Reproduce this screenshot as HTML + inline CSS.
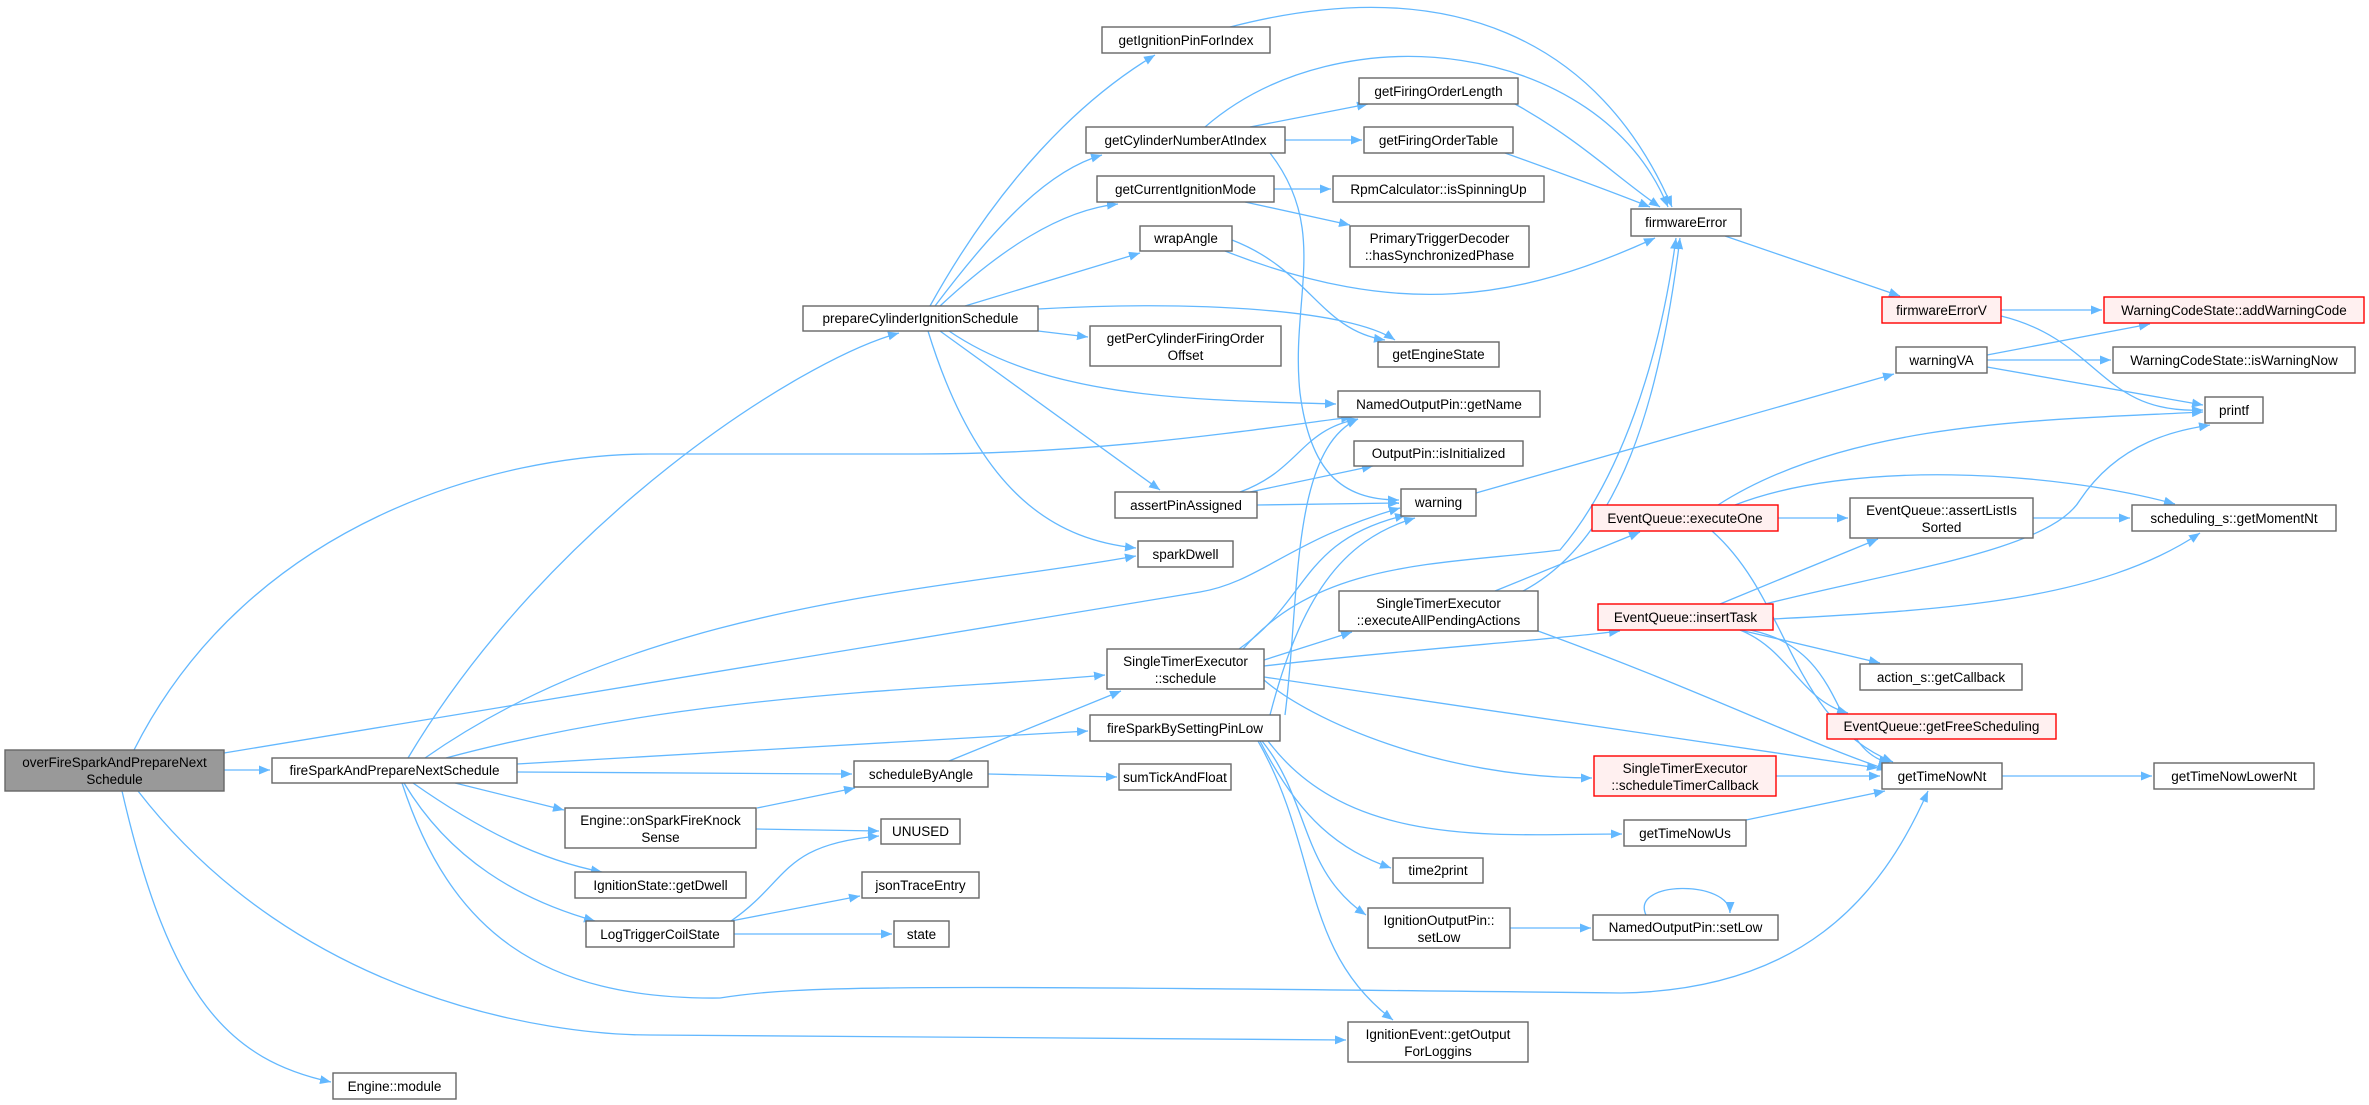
<!DOCTYPE html>
<html><head><meta charset="utf-8"><style>
html,body{margin:0;padding:0;background:#fff;}
svg{display:block;}
text{font-family:"Liberation Sans",Arial,sans-serif;font-size:13.5px;fill:#000;}
.n{fill:#fff;stroke:#666;stroke-width:1.4;}
.r{fill:#fff0f0;stroke:#ff0000;stroke-width:1.4;}
.g{fill:#999;stroke:#666;stroke-width:1.4;}
.e{fill:none;stroke:#63b8ff;stroke-width:1.3;marker-end:url(#a);}
</style></head><body>
<svg width="2369" height="1105" viewBox="0 0 2369 1105" xmlns="http://www.w3.org/2000/svg">
<defs><marker id="a" markerUnits="userSpaceOnUse" markerWidth="12" markerHeight="10" refX="11" refY="4.5" orient="auto"><path d="M0,0 L11,4.5 L0,9 z" fill="#63b8ff"/></marker></defs>
<g>
<path class="e" d="M224,770 L270,770"/>
<path class="e" d="M134,750 C250,520 500,454 650,454 L918,454 C1100,454 1250,430 1352,417"/>
<path class="e" d="M224,753 L1200,592 C1260,582 1290,540 1400,508"/>
<path class="e" d="M138,791 C300,1000 550,1035 650,1035 L1346,1040"/>
<path class="e" d="M122,791 C170,1000 230,1060 331,1082"/>
<path class="e" d="M408,758 C550,520 800,360 899,333"/>
<path class="e" d="M425,758 C650,600 950,590 1136,556"/>
<path class="e" d="M446,758 C700,690 950,690 1105,675"/>
<path class="e" d="M517,764 L1088,731"/>
<path class="e" d="M517,772 L852,774"/>
<path class="e" d="M455,783 L564,810"/>
<path class="e" d="M413,783 C480,830 540,860 602,872"/>
<path class="e" d="M404,783 C450,860 520,900 595,921"/>
<path class="e" d="M402,783 C450,930 540,1000 720,998 C800,985 900,985 1621,993 C1800,990 1880,900 1928,791"/>
<path class="e" d="M949,761 L1121,691"/>
<path class="e" d="M988,774 L1117,777"/>
<path class="e" d="M757,808 L855,788"/>
<path class="e" d="M756,829 L879,831"/>
<path class="e" d="M731,921 C790,880 780,845 879,836"/>
<path class="e" d="M731,921 L860,896"/>
<path class="e" d="M734,934 L892,934"/>
<path class="e" d="M930,306 C1000,180 1080,100 1155,55"/>
<path class="e" d="M935,306 C1000,220 1050,170 1102,155"/>
<path class="e" d="M940,306 C1000,250 1060,210 1118,204"/>
<path class="e" d="M965,306 L1140,253"/>
<path class="e" d="M1038,309 C1200,300 1350,310 1395,340"/>
<path class="e" d="M1038,331 L1088,337"/>
<path class="e" d="M949,331 C1050,400 1200,400 1336,404"/>
<path class="e" d="M940,331 L1160,490"/>
<path class="e" d="M928,331 C980,500 1060,540 1136,548"/>
<path class="e" d="M1230,27 C1450,-30 1600,40 1672,207"/>
<path class="e" d="M1205,127 C1340,10 1600,40 1668,207"/>
<path class="e" d="M1250,127 L1368,104"/>
<path class="e" d="M1285,140 L1362,140"/>
<path class="e" d="M1270,153 C1330,230 1290,300 1300,393 C1310,470 1340,500 1399,500"/>
<path class="e" d="M1274,189 L1331,189"/>
<path class="e" d="M1245,202 L1350,225"/>
<path class="e" d="M1225,251 C1400,320 1520,300 1655,238"/>
<path class="e" d="M1232,240 C1310,270 1320,330 1385,340"/>
<path class="e" d="M1515,104 C1580,140 1620,180 1660,207"/>
<path class="e" d="M1505,153 C1580,180 1620,195 1650,207"/>
<path class="e" d="M1240,492 C1300,470 1300,430 1358,419"/>
<path class="e" d="M1250,492 L1373,466"/>
<path class="e" d="M1257,505 L1399,503"/>
<path class="e" d="M1239,649 C1310,600 1300,540 1406,515"/>
<path class="e" d="M1243,649 C1320,560 1440,565 1560,550 C1620,480 1660,360 1676,238"/>
<path class="e" d="M1264,660 L1352,632"/>
<path class="e" d="M1264,666 C1400,650 1550,640 1620,631"/>
<path class="e" d="M1264,680 C1310,720 1440,778 1592,778"/>
<path class="e" d="M1264,677 L1878,768"/>
<path class="e" d="M1270,715 C1300,600 1340,540 1415,518"/>
<path class="e" d="M1285,715 C1300,600 1290,450 1358,419"/>
<path class="e" d="M1523,591 C1620,540 1660,400 1680,238"/>
<path class="e" d="M1495,591 L1640,532"/>
<path class="e" d="M1538,631 C1700,690 1800,740 1888,770"/>
<path class="e" d="M1476,493 L1894,374"/>
<path class="e" d="M1725,236 L1900,296"/>
<path class="e" d="M2001,310 L2102,310"/>
<path class="e" d="M2001,316 C2100,340 2100,415 2203,410"/>
<path class="e" d="M1987,355 L2150,324"/>
<path class="e" d="M1987,360 L2111,360"/>
<path class="e" d="M1987,367 L2203,405"/>
<path class="e" d="M1718,505 C1850,420 2050,420 2203,412"/>
<path class="e" d="M1735,505 C1850,460 2050,470 2175,504"/>
<path class="e" d="M1778,518 L1848,518"/>
<path class="e" d="M1712,531 C1790,600 1790,720 1893,762"/>
<path class="e" d="M1720,604 L1878,539"/>
<path class="e" d="M1765,604 C1900,570 2050,550 2080,500 C2120,440 2180,430 2210,425"/>
<path class="e" d="M1773,619 C1950,610 2100,600 2200,533"/>
<path class="e" d="M1740,630 L1880,663"/>
<path class="e" d="M1740,630 C1790,650 1800,700 1848,713"/>
<path class="e" d="M1750,630 C1850,650 1830,750 1890,763"/>
<path class="e" d="M2033,518 L2130,518"/>
<path class="e" d="M1776,776 L1880,776"/>
<path class="e" d="M1746,820 L1885,791"/>
<path class="e" d="M2002,776 L2152,776"/>
<path class="e" d="M1260,741 C1300,820 1340,850 1391,868"/>
<path class="e" d="M1262,741 C1310,800 1300,870 1366,915"/>
<path class="e" d="M1258,741 C1320,850 1300,950 1393,1020"/>
<path class="e" d="M1268,741 C1350,850 1500,834 1622,834"/>
<path class="e" d="M1510,928 L1591,928"/>
<path class="e" d="M1646,915 C1630,880 1730,880 1730,913"/>
</g>
<g>
<rect class="g" x="5" y="750" width="219" height="41"/>
<text x="114.5" y="767" text-anchor="middle">overFireSparkAndPrepareNext</text>
<text x="114.5" y="784" text-anchor="middle">Schedule</text>
<rect class="n" x="272" y="758" width="245" height="25"/><text x="394.5" y="775" text-anchor="middle">fireSparkAndPrepareNextSchedule</text>
<rect class="n" x="803" y="306" width="235" height="25"/><text x="920.5" y="323" text-anchor="middle">prepareCylinderIgnitionSchedule</text>
<rect class="n" x="1102" y="27" width="168" height="26"/><text x="1186" y="45" text-anchor="middle">getIgnitionPinForIndex</text>
<rect class="n" x="1086" y="127" width="199" height="26"/><text x="1185.5" y="145" text-anchor="middle">getCylinderNumberAtIndex</text>
<rect class="n" x="1097" y="176" width="177" height="26"/><text x="1185.5" y="194" text-anchor="middle">getCurrentIgnitionMode</text>
<rect class="n" x="1140" y="226" width="92" height="25"/><text x="1186" y="243" text-anchor="middle">wrapAngle</text>
<rect class="n" x="1090" y="326" width="191" height="40"/><text x="1185.5" y="343" text-anchor="middle">getPerCylinderFiringOrder</text><text x="1185.5" y="360" text-anchor="middle">Offset</text>
<rect class="n" x="1115" y="492" width="142" height="26"/><text x="1186" y="510" text-anchor="middle">assertPinAssigned</text>
<rect class="n" x="1138" y="541" width="95" height="26"/><text x="1185.5" y="559" text-anchor="middle">sparkDwell</text>
<rect class="n" x="1107" y="649" width="157" height="40"/><text x="1185.5" y="666" text-anchor="middle">SingleTimerExecutor</text><text x="1185.5" y="683" text-anchor="middle">::schedule</text>
<rect class="n" x="1090" y="715" width="190" height="26"/><text x="1185" y="733" text-anchor="middle">fireSparkBySettingPinLow</text>
<rect class="n" x="854" y="761" width="134" height="26"/><text x="921" y="779" text-anchor="middle">scheduleByAngle</text>
<rect class="n" x="1119" y="764" width="112" height="26"/><text x="1175" y="782" text-anchor="middle">sumTickAndFloat</text>
<rect class="n" x="565" y="808" width="191" height="40"/><text x="660.5" y="825" text-anchor="middle">Engine::onSparkFireKnock</text><text x="660.5" y="842" text-anchor="middle">Sense</text>
<rect class="n" x="881" y="819" width="79" height="25"/><text x="920.5" y="836" text-anchor="middle">UNUSED</text>
<rect class="n" x="575" y="872" width="171" height="26"/><text x="660.5" y="890" text-anchor="middle">IgnitionState::getDwell</text>
<rect class="n" x="862" y="872" width="117" height="26"/><text x="920.5" y="890" text-anchor="middle">jsonTraceEntry</text>
<rect class="n" x="586" y="921" width="148" height="26"/><text x="660" y="939" text-anchor="middle">LogTriggerCoilState</text>
<rect class="n" x="894" y="921" width="55" height="26"/><text x="921.5" y="939" text-anchor="middle">state</text>
<rect class="n" x="333" y="1073" width="123" height="26"/><text x="394.5" y="1091" text-anchor="middle">Engine::module</text>
<rect class="n" x="1359" y="78" width="159" height="26"/><text x="1438.5" y="96" text-anchor="middle">getFiringOrderLength</text>
<rect class="n" x="1364" y="127" width="149" height="26"/><text x="1438.5" y="145" text-anchor="middle">getFiringOrderTable</text>
<rect class="n" x="1333" y="176" width="211" height="26"/><text x="1438.5" y="194" text-anchor="middle">RpmCalculator::isSpinningUp</text>
<rect class="n" x="1350" y="226" width="179" height="41"/><text x="1439.5" y="243" text-anchor="middle">PrimaryTriggerDecoder</text><text x="1439.5" y="260" text-anchor="middle">::hasSynchronizedPhase</text>
<rect class="n" x="1378" y="342" width="121" height="25"/><text x="1438.5" y="359" text-anchor="middle">getEngineState</text>
<rect class="n" x="1338" y="391" width="202" height="26"/><text x="1439" y="409" text-anchor="middle">NamedOutputPin::getName</text>
<rect class="n" x="1354" y="441" width="169" height="25"/><text x="1438.5" y="458" text-anchor="middle">OutputPin::isInitialized</text>
<rect class="n" x="1401" y="489" width="75" height="27"/><text x="1438.5" y="507" text-anchor="middle">warning</text>
<rect class="n" x="1339" y="591" width="199" height="40"/><text x="1438.5" y="608" text-anchor="middle">SingleTimerExecutor</text><text x="1438.5" y="625" text-anchor="middle">::executeAllPendingActions</text>
<rect class="n" x="1393" y="858" width="90" height="25"/><text x="1438" y="875" text-anchor="middle">time2print</text>
<rect class="n" x="1368" y="908" width="142" height="40"/><text x="1439" y="925" text-anchor="middle">IgnitionOutputPin::</text><text x="1439" y="942" text-anchor="middle">setLow</text>
<rect class="n" x="1348" y="1022" width="180" height="40"/><text x="1438" y="1039" text-anchor="middle">IgnitionEvent::getOutput</text><text x="1438" y="1056" text-anchor="middle">ForLoggins</text>
<rect class="n" x="1631" y="209" width="110" height="27"/><text x="1686" y="227" text-anchor="middle">firmwareError</text>
<rect class="r" x="1592" y="505" width="186" height="26"/><text x="1685" y="523" text-anchor="middle">EventQueue::executeOne</text>
<rect class="r" x="1598" y="604" width="175" height="26"/><text x="1685.5" y="622" text-anchor="middle">EventQueue::insertTask</text>
<rect class="r" x="1594" y="756" width="182" height="40"/><text x="1685" y="773" text-anchor="middle">SingleTimerExecutor</text><text x="1685" y="790" text-anchor="middle">::scheduleTimerCallback</text>
<rect class="n" x="1624" y="820" width="122" height="26"/><text x="1685" y="838" text-anchor="middle">getTimeNowUs</text>
<rect class="n" x="1593" y="915" width="185" height="25"/><text x="1685.5" y="932" text-anchor="middle">NamedOutputPin::setLow</text>
<rect class="r" x="1882" y="297" width="119" height="26"/><text x="1941.5" y="315" text-anchor="middle">firmwareErrorV</text>
<rect class="n" x="1896" y="347" width="91" height="26"/><text x="1941.5" y="365" text-anchor="middle">warningVA</text>
<rect class="n" x="1850" y="498" width="183" height="40"/><text x="1941.5" y="515" text-anchor="middle">EventQueue::assertListIs</text><text x="1941.5" y="532" text-anchor="middle">Sorted</text>
<rect class="n" x="1860" y="664" width="162" height="26"/><text x="1941" y="682" text-anchor="middle">action_s::getCallback</text>
<rect class="r" x="1827" y="714" width="229" height="25"/><text x="1941.5" y="731" text-anchor="middle">EventQueue::getFreeScheduling</text>
<rect class="n" x="1882" y="763" width="120" height="26"/><text x="1942" y="781" text-anchor="middle">getTimeNowNt</text>
<rect class="r" x="2104" y="297" width="260" height="26"/><text x="2234" y="315" text-anchor="middle">WarningCodeState::addWarningCode</text>
<rect class="n" x="2113" y="347" width="242" height="26"/><text x="2234" y="365" text-anchor="middle">WarningCodeState::isWarningNow</text>
<rect class="n" x="2205" y="397" width="58" height="26"/><text x="2234" y="415" text-anchor="middle">printf</text>
<rect class="n" x="2132" y="505" width="204" height="26"/><text x="2234" y="523" text-anchor="middle">scheduling_s::getMomentNt</text>
<rect class="n" x="2154" y="763" width="160" height="26"/><text x="2234" y="781" text-anchor="middle">getTimeNowLowerNt</text>
</g>
</svg>
</body></html>
